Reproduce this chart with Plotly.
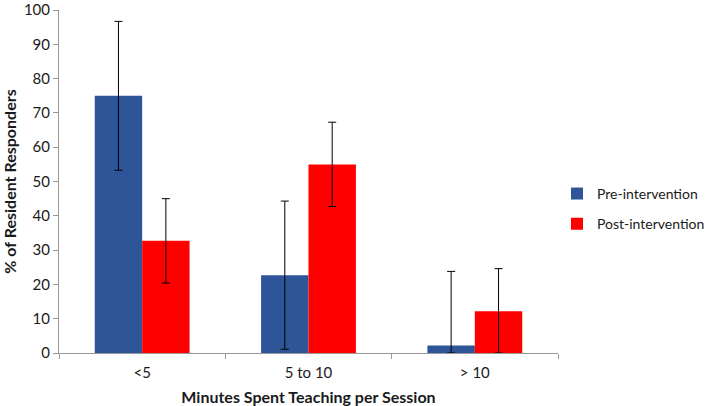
import plotly.graph_objects as go

categories = ["<5", "5 to 10", "> 10"]
pre_values = [75.0, 22.7, 2.2]
post_values = [32.7, 55.0, 12.2]
pre_err = [21.7, 21.6, 21.6]
post_err = [12.3, 12.3, 12.4]
y_ticks = [0, 10, 20, 30, 40, 50, 60, 70, 80, 90, 100]

def clip_minus(vals, errs):
    return [min(v, e) for v, e in zip(vals, errs)]

FONT = "Lato, 'Open Sans', sans-serif"

fig = go.Figure()
fig.add_trace(go.Bar(
    x=categories, y=pre_values, name="Pre-intervention",
    marker=dict(color="#2E5597", line=dict(width=0)),
    error_y=dict(type="data", array=pre_err, arrayminus=clip_minus(pre_values, pre_err),
                 symmetric=False, color="black", thickness=1, width=4),
    legendgroup="a",
))
fig.add_trace(go.Bar(
    x=categories, y=post_values, name="Post-intervention",
    marker=dict(color="#FF0000", line=dict(width=0)),
    error_y=dict(type="data", array=post_err, arrayminus=clip_minus(post_values, post_err),
                 symmetric=False, color="black", thickness=1, width=4),
    legendgroup="b",
))

fig.update_layout(
    width=709, height=406,
    margin=dict(l=59, r=151, t=10, b=53, autoexpand=False),
    paper_bgcolor="white", plot_bgcolor="white",
    barmode="group", bargap=0.43, bargroupgap=0,
    font=dict(family=FONT, size=15, color="#1a1a1a"),
    showlegend=True,
    legend=dict(x=0.998, y=0.42, xanchor="left", yanchor="middle",
                font=dict(size=14), tracegroupgap=9, itemwidth=30, bgcolor="rgba(0,0,0,0)"),
    xaxis=dict(
        title=dict(text="<b>Minutes Spent Teaching per Session</b>", font=dict(size=16), standoff=14),
        showline=True, linecolor="#999999", linewidth=1,
        ticks="outside", tickson="boundaries", ticklen=5, tickcolor="#999999",
        ticklabelstandoff=6,
        showgrid=False, automargin=False,
    ),
    yaxis=dict(
        title=dict(text="<b>% of Resident Responders</b>", font=dict(size=16), standoff=8),
        range=[0, 100.02], tickmode="array", tickvals=y_ticks,
        showline=True, linecolor="#999999", linewidth=1,
        ticks="outside", ticklen=5, tickcolor="#999999",
        ticklabeloverflow="allow",
        showgrid=False, zeroline=False, automargin=False,
    ),
)

fig.write_html("out.html", config={"displayModeBar": False},
               post_script="document.body.style.margin='0px';")
